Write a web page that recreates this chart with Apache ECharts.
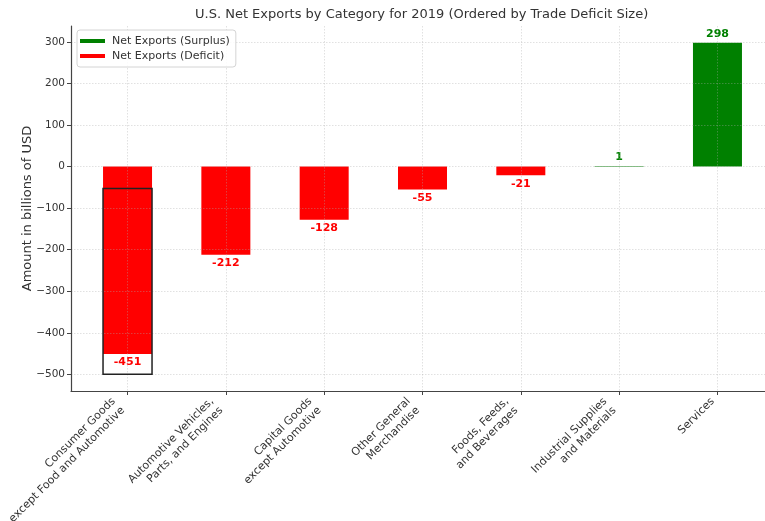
<!DOCTYPE html>
<html>
<head>
<meta charset="utf-8">
<script src="https://cdn.jsdelivr.net/npm/echarts@6/dist/echarts.min.js"></script>
<style>
  html, body { margin: 0; padding: 0; background: #ffffff; }
  #chart { width: 765px; height: 521px; }
</style>
</head>
<body>
<div id="chart"></div>
<script>
// Categories in order of trade deficit size
const categories = [
  'Consumer Goods\nexcept Food and Automotive',
  'Automotive Vehicles,\nParts, and Engines',
  'Capital Goods\nexcept Automotive',
  'Other General\nMerchandise',
  'Foods, Feeds,\nand Beverages',
  'Industrial Supplies\nand Materials',
  'Services'
];

// Net exports, billions of USD
const netExports = [-451, -212, -128, -55, -21, 1, 298];

// Y axis tick values
const yTickValues = [-500, -400, -300, -200, -100, 0, 100, 200, 300];

// Outlined highlight around the largest deficit
const highlightIndex = 0;
const highlightTop = -53;
const highlightBottom = -500;

const xPositions = categories.map((_, i) => i);
const surplusData = netExports.map((v, i) => [i, v > 0 ? v : null]);
const deficitData = netExports.map((v, i) => [i, v < 0 ? v : null]);

const FONT = 'DejaVu Sans';
const GREEN = '#008000';
const RED = '#ff0000';
const BAR_WIDTH = 49;
const gridLine = { show: true, lineStyle: { color: 'rgba(170,170,170,0.45)', type: [1.5, 1.5], width: 0.8 } };

const chart = echarts.init(document.getElementById('chart'), null, { renderer: 'canvas' });

chart.setOption({
  animation: false,
  backgroundColor: '#ffffff',
  textStyle: { fontFamily: FONT },
  title: {
    text: 'U.S. Net Exports by Category for 2019 (Ordered by Trade Deficit Size)',
    left: 195,
    top: 8,
    padding: 0,
    textStyle: { fontFamily: FONT, fontSize: 13, fontWeight: 'normal', color: '#333333' }
  },
  legend: {
    data: ['Net Exports (Surplus)', 'Net Exports (Deficit)'],
    orient: 'vertical',
    left: 77,
    top: 30,
    padding: [4, 6, 4, 3],
    itemGap: 1,
    itemWidth: 25,
    itemHeight: 4,
    icon: 'rect',
    borderColor: '#d4d4d4',
    borderWidth: 1,
    borderRadius: 3,
    backgroundColor: 'rgba(255,255,255,0.85)',
    textStyle: { fontFamily: FONT, fontSize: 11, color: '#333333', lineHeight: 14, padding: [0, 0, 0, 2] }
  },
  grid: {
    left: 71,
    top: 26,
    width: 703,
    height: 365,
    outerBoundsMode: 'none',
    containLabel: false
  },
  xAxis: {
    type: 'value',
    min: -0.575,
    max: 6.575,
    z: 3,
    axisLine: { show: true, onZero: false, lineStyle: { color: '#444444', width: 1.2 } },
    axisTick: { show: true, customValues: xPositions, length: 4, lineStyle: { color: '#444444', width: 1 } },
    axisLabel: {
      customValues: xPositions,
      rotate: 45,
      margin: 4,
      hideOverlap: false,
      formatter: (v) => {
        const lines = categories[Math.round(v)].split('\n');
        const style = lines.length > 1 ? 'two' : 'one';
        return lines.map(l => '{' + style + '|' + l + '}').join('\n');
      },
      rich: {
        one: { fontFamily: FONT, fontSize: 11, lineHeight: 13, color: '#333333', padding: [0, 6.5, 0, 0] },
        two: { fontFamily: FONT, fontSize: 11, lineHeight: 13, color: '#333333', padding: [0, 13, 0, 0] }
      }
    },
    splitLine: gridLine
  },
  yAxis: {
    type: 'value',
    min: -540,
    max: 338,
    z: 3,
    name: 'Amount in billions of USD',
    nameLocation: 'middle',
    nameRotate: 90,
    nameGap: 37,
    nameMoveOverlap: false,
    nameTextStyle: { fontFamily: FONT, fontSize: 13, color: '#333333' },
    axisLine: { show: true, onZero: false, lineStyle: { color: '#444444', width: 1.2 } },
    axisTick: { show: true, customValues: yTickValues, length: 4, lineStyle: { color: '#444444', width: 1 } },
    axisLabel: {
      customValues: yTickValues,
      margin: 6,
      fontFamily: FONT,
      fontSize: 10.5,
      color: '#333333',
      formatter: (v) => String(v).replace('-', '\u2212')
    },
    splitLine: gridLine
  },
  series: [
    {
      name: 'Net Exports (Deficit)',
      type: 'bar',
      barWidth: BAR_WIDTH,
      barGap: '-100%',
      itemStyle: { color: RED },
      label: {
        show: true,
        position: 'bottom',
        distance: 3,
        fontFamily: FONT,
        fontSize: 11,
        fontWeight: 'bold',
        color: RED,
        formatter: (p) => String(p.value[1])
      },
      data: deficitData
    },
    {
      name: 'Net Exports (Surplus)',
      type: 'bar',
      barWidth: BAR_WIDTH,
      barGap: '-100%',
      itemStyle: { color: GREEN },
      label: {
        show: true,
        position: 'top',
        distance: 3,
        fontFamily: FONT,
        fontSize: 11,
        fontWeight: 'bold',
        color: GREEN,
        formatter: (p) => String(p.value[1])
      },
      data: surplusData
    },
    {
      // black outline drawn over the largest deficit bar
      name: 'highlight-box',
      type: 'custom',
      silent: true,
      z: 4,
      renderItem: (params, api) => {
        const x = api.value(0);
        const pTop = api.coord([x, api.value(1)]);
        const pBottom = api.coord([x, api.value(2)]);
        return {
          type: 'rect',
          shape: {
            x: pTop[0] - BAR_WIDTH / 2,
            y: pTop[1],
            width: BAR_WIDTH,
            height: pBottom[1] - pTop[1]
          },
          style: { fill: 'none', stroke: '#222222', lineWidth: 1.5 }
        };
      },
      data: [[highlightIndex, highlightTop, highlightBottom]]
    }
  ]
});
</script>
</body>
</html>
